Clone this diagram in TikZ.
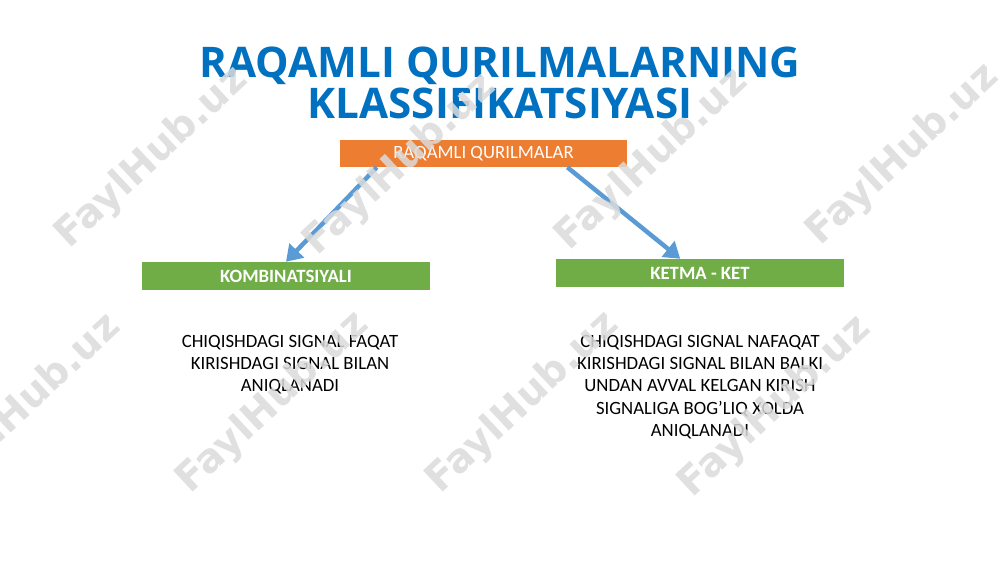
\documentclass[tikz,border=0pt]{standalone}
\usepackage{fontspec}
\setmainfont{Carlito}
\newfontfamily\titlefont{Open Sans}
\newfontfamily\markfont{DejaVu Sans}
\usepackage{xcolor}
\usetikzlibrary{arrows.meta}
\definecolor{titleblue}{HTML}{0070C0}
\definecolor{boxorange}{HTML}{ED7D31}
\definecolor{boxgreen}{HTML}{70AD47}
\definecolor{arrowblue}{HTML}{5B9BD5}
\tikzset{%
  tipQ/.tip={Triangle[length=15pt,width=19pt]},
  topbox/.style={fill=boxorange, text=white, minimum width=275.5pt, minimum height=26pt, inner sep=0pt, font=\fontsize{18}{21}\selectfont},
  kindbox/.style={fill=boxgreen, text=white, minimum width=276pt, minimum height=27pt, inner sep=0pt, font=\bfseries\fontsize{18}{21}\selectfont},
  note/.style={align=center, inner sep=0pt, font=\fontsize{18}{21.4}\selectfont},
  link/.style={arrowblue, line width=4.3pt, -tipQ},
  wmark/.style={rotate=43, text=black!14, text opacity=0.85, font=\markfont\bfseries\fontsize{38}{40}\selectfont}
}

\begin{document}
\begin{tikzpicture}[x=0.96pt,y=-0.96pt]
\useasboundingbox (0,0) rectangle (1000,562);
\fill[white] (0,0) rectangle (1000,562);
% title
\node[align=center, text=titleblue, inner sep=0pt, font=\titlefont\bfseries\fontsize{40.5}{40}\selectfont] (title) at (500,83) {RAQAMLI QURILMALARNING\\KLASSIFIKATSIYASI};
% boxes
\node[topbox] (top) at (483.5,153.5) {RAQAMLI QURILMALAR};
\node[kindbox] (comb) at (286,276) {KOMBINATSIYALI};
\node[kindbox] (seq) at (700,273) {KETMA - KET};
\draw[link] ([xshift=35.5pt]top.south west) -- (comb.north);
\draw[link] ([xshift=-57.5pt]top.south east) -- ([xshift=-19pt]seq.north);
% descriptions
\node[note, anchor=north] (combnote) at (290,335) {CHIQISHDAGI SIGNAL FAQAT\\KIRISHDAGI SIGNAL BILAN\\ANIQLANADI};
\node[note, anchor=north] (seqnote) at (700,335) {CHIQISHDAGI SIGNAL NAFAQAT\\KIRISHDAGI SIGNAL BILAN BALKI\\UNDAN AVVAL KELGAN KIRISH\\SIGNALIGA BOG’LIQ XOLDA\\ANIQLANADI};
% watermark
\foreach \wx/\wy [count=\wi] in {152/158,400/165,652/160,903/155,25/405,273/403,523/403,775/407}
  \node[wmark] (mark\wi) at (\wx,\wy) {FaylHub.uz};
\end{tikzpicture}
\end{document}
